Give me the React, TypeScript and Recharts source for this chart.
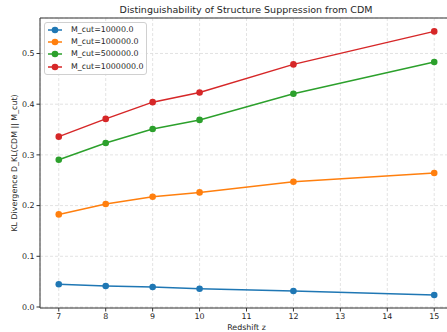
import React from 'react';
import { LineChart, Line, XAxis, YAxis, CartesianGrid, Legend, ReferenceLine } from 'recharts';

const redshifts = [7, 8, 9, 10, 12, 15];
const kl10000 = [0.0447, 0.0415, 0.0395, 0.036, 0.0316, 0.0237];
const kl100000 = [0.1826, 0.203, 0.2175, 0.226, 0.247, 0.2643];
const kl500000 = [0.2905, 0.3235, 0.351, 0.369, 0.4207, 0.4832];
const kl1000000 = [0.336, 0.371, 0.404, 0.423, 0.4785, 0.5436];

const xTicks = [7, 8, 9, 10, 11, 12, 13, 14, 15];
const yTicks = [0, 0.1, 0.2, 0.3, 0.4, 0.5];

const seriesNames = ['M_cut=10000.0', 'M_cut=100000.0', 'M_cut=500000.0', 'M_cut=1000000.0'];
const seriesKeys = ['s1', 's2', 's3', 's4'];
const colors = ['#1f77b4', '#ff7f0e', '#2ca02c', '#d62728'];
const seriesValues = [kl10000, kl100000, kl500000, kl1000000];

const data = redshifts.map((z, i) => {
  const row: any = { z };
  seriesKeys.forEach((k, j) => {
    row[k] = seriesValues[j][i];
  });
  return row;
});

const FONT = 'DejaVu Sans, sans-serif';
const TXT = '#262626';
const FS = 7.9;

const LegendBox = () => (
  <div
    style={{
      border: '1px solid #d0d0d0',
      borderRadius: 3,
      background: 'rgba(255,255,255,0.85)',
      padding: '1px 4px 1px 3px',
      fontFamily: FONT,
      fontSize: FS,
      color: TXT,
      boxSizing: 'border-box',
      width: 103,
    }}
  >
    {seriesNames.map((n, i) => (
      <div key={n} style={{ display: 'flex', alignItems: 'center', height: 12.2 }}>
        <svg width={14} height={8} style={{ marginRight: 9, flexShrink: 0 }}>
          <line x1={0} y1={4} x2={14} y2={4} stroke={colors[i]} strokeWidth={1.5} />
          <circle cx={7} cy={4} r={3.3} fill={colors[i]} />
        </svg>
        <span style={{ whiteSpace: 'nowrap', lineHeight: '12px' }}>{n}</span>
      </div>
    ))}
  </div>
);

const YLabel = (props: any) => {
  const vb = props.viewBox || { x: 0, y: 18, width: 40, height: 290 };
  const cx = vb.x + 14;
  const cy = vb.y + vb.height / 2;
  return (
    <text
      x={cx}
      y={cy}
      transform={`rotate(-90, ${cx}, ${cy})`}
      textAnchor="middle"
      dominantBaseline="central"
      fontFamily={FONT}
      fontSize={FS}
      fill={TXT}
    >
      KL Divergence D_KL(CDM || M_cut)
    </text>
  );
};

const XLabel = (props: any) => {
  const vb = props.viewBox || { x: 40, y: 308, width: 413, height: 24 };
  const cx = vb.x + vb.width / 2;
  return (
    <text x={cx} y={vb.y + 22} textAnchor="middle" fontFamily={FONT} fontSize={FS} fill={TXT}>
      Redshift z
    </text>
  );
};

export default function App() {
  return (
    <div
      style={{
        position: 'absolute',
        left: 0,
        top: 0,
        width: 447,
        height: 332,
        overflow: 'hidden',
        background: '#fff',
      }}
    >
      <div
        style={{
          position: 'absolute',
          left: 246,
          top: 4,
          transform: 'translateX(-50%)',
          whiteSpace: 'nowrap',
          fontFamily: FONT,
          fontSize: 9.5,
          color: TXT,
          lineHeight: '12px',
          zIndex: 2,
        }}
      >
        Distinguishability of Structure Suppression from CDM
      </div>
      <LineChart
        width={453}
        height={332}
        data={data}
        margin={{ top: 18, right: 0, bottom: 0, left: 0 }}
        style={{ position: 'absolute', left: 0, top: 0 }}
      >
        <CartesianGrid stroke="#dcdcdc" strokeDasharray="3 2" strokeWidth={0.8} />
        <XAxis
          dataKey="z"
          type="number"
          domain={[6.6, 15.4]}
          ticks={xTicks}
          allowDataOverflow
          height={24}
          tickSize={3.5}
          tickMargin={2}
          stroke="#333"
          tick={{ fontFamily: FONT, fontSize: FS, fill: TXT }}
          label={<XLabel />}
        />
        <YAxis
          type="number"
          domain={[-0.002, 0.57]}
          ticks={yTicks}
          allowDataOverflow
          width={40}
          tickSize={3.5}
          tickMargin={2}
          stroke="#333"
          tickFormatter={(v: number) => v.toFixed(1)}
          tick={{ fontFamily: FONT, fontSize: FS, fill: TXT }}
          label={<YLabel />}
        />
        <ReferenceLine y={0.57} stroke="#333" strokeWidth={1} />
        {seriesKeys.map((k, i) => (
          <Line
            key={k}
            dataKey={k}
            name={seriesNames[i]}
            stroke={colors[i]}
            strokeWidth={1.5}
            dot={{ r: 3.3, fill: colors[i], stroke: colors[i], strokeWidth: 0 }}
            activeDot={false}
            isAnimationActive={false}
          />
        ))}
        <Legend
          layout="vertical"
          align="center"
          verticalAlign="middle"
          content={<LegendBox />}
          wrapperStyle={{ top: 22, left: 44, width: 'auto', height: 'auto' }}
        />
      </LineChart>
    </div>
  );
}
